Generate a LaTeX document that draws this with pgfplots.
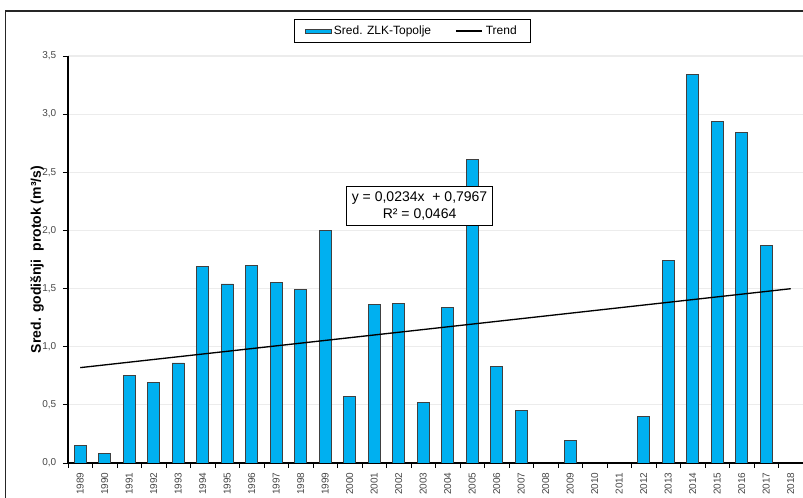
\documentclass[border=0pt]{standalone}
\usepackage{pgfplots}
\pgfplotsset{compat=1.18}
\usepackage{fontspec}
\setmainfont{Liberation Sans}
\definecolor{barblue}{RGB}{0,176,240}
\definecolor{tickgray}{RGB}{70,70,70}
\begin{document}
\begin{tikzpicture}
\useasboundingbox (0pt,0pt) rectangle (602.25pt,373.5pt);
\begin{scope}
\clip (0pt,0pt) rectangle (602.25pt,373.5pt);
\draw[black!85, line width=1pt] (4.1pt,-5pt) -- (4.1pt,365.2pt) -- (610pt,365.2pt);
\end{scope}
\begin{axis}[
  at={(51pt,26.25pt)}, anchor=south west, scale only axis,
  width=551.25pt, height=305.25pt,
  xmin=-0.5, xmax=29.5, ymin=0, ymax=3.5,
  axis x line*=bottom, axis y line*=left,
  axis line style={black, line width=0.8pt},
  ytick={0,0.5,1,1.5,2,2.5,3,3.5},
  yticklabel style={/pgf/number format/.cd, fixed, fixed zerofill, precision=1, use comma, /tikz/.cd, font=\fontsize{7.5}{9}\selectfont, text=tickgray, xshift=-1.5pt},
  /pgf/number format/assume math mode=true,
  ymajorgrids, major grid style={gray!15, line width=0.8pt},
  tick align=outside,
  major tick length=3.75pt,
  tick style={black, line width=0.6pt},
  xtick={0,1,...,29},
  xticklabels={1989,1990,1991,1992,1993,1994,1995,1996,1997,1998,1999,2000,2001,2002,2003,2004,2005,2006,2007,2008,2009,2010,2011,2012,2013,2014,2015,2016,2017,2018},
  x tick style={draw=none},
  minor xtick={-0.5,0.5,1.5,2.5,3.5,4.5,5.5,6.5,7.5,8.5,9.5,10.5,11.5,12.5,13.5,14.5,15.5,16.5,17.5,18.5,19.5,20.5,21.5,22.5,23.5,24.5,25.5,26.5,27.5,28.5,29.5},
  minor x tick style={draw=black, line width=0.6pt},
  minor tick length=3.75pt,
  xticklabel style={rotate=90, anchor=east, font=\fontsize{7.5}{9}\selectfont, text=tickgray},
  ylabel={Sred. godišnji\ \ protok (m³/s)},
  ylabel style={font=\bfseries\fontsize{10.5}{12}\selectfont, at={(axis description cs:-0.042,0.5)}, anchor=center},
  legend style={at={(0.468,1.061)}, anchor=center, draw=black, line width=0.6pt, legend columns=2, font=\fontsize{9}{11}\selectfont, /tikz/every even column/.append style={column sep=16pt}, inner xsep=8pt, inner ysep=2.5pt},
]
\addplot[ybar, bar width=0.5, fill=barblue, draw=black!75, line width=0.6pt,
  legend image code/.code={\draw[fill=barblue,draw=black!75,line width=0.5pt] (0pt,-1.6pt) rectangle (19.5pt,1.6pt);}]
  coordinates {
  (0,0.15) (1,0.08) (2,0.75) (3,0.69) (4,0.86) (5,1.69) (6,1.54) (7,1.70)
  (8,1.55) (9,1.49) (10,2.00) (11,0.57) (12,1.36) (13,1.37) (14,0.52)
  (15,1.34) (16,2.61) (17,0.83) (18,0.45) (20,0.19) (23,0.40) (24,1.74)
  (25,3.34) (26,2.94) (27,2.84) (28,1.87)};
\addlegendentry{Sred. ZLK-Topolje}
\addplot[black, line width=1pt, sharp plot,
  legend image code/.code={\draw[black,line width=1pt] (0pt,0pt) -- (20pt,0pt);}]
  coordinates {(0,0.8201) (29,1.4987)};
\addlegendentry{Trend}
\node[draw=black, line width=0.6pt, fill=white, align=center, font=\fontsize{10.5}{13}\selectfont, inner xsep=4pt, inner ysep=4pt] at (axis cs:13.85,2.21) {y = 0,0234x \ + 0,7967\\R² = 0,0464};
\end{axis}
\end{tikzpicture}
\end{document}
